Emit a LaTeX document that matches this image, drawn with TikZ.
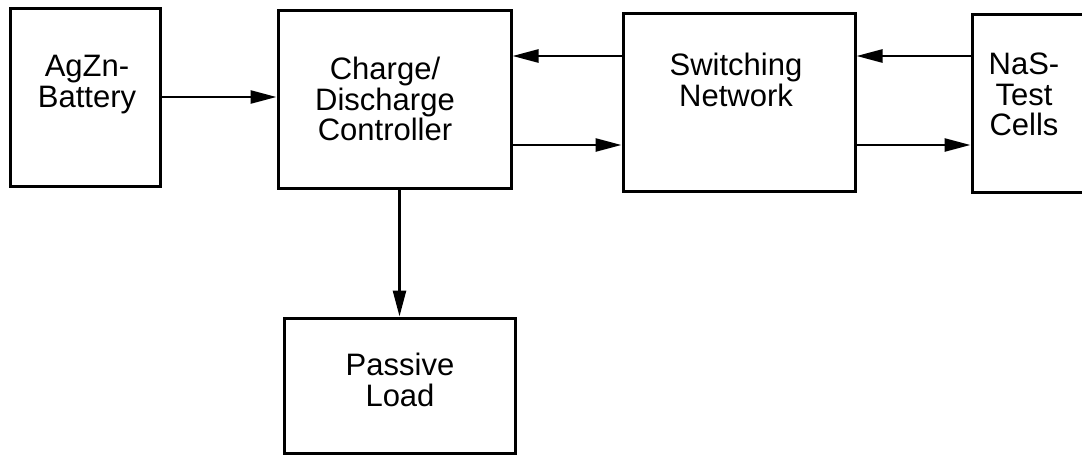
\documentclass[tikz,border=0pt]{standalone}
\usepackage{fontspec}
\setmainfont{Liberation Sans}
\usetikzlibrary{arrows.meta}

\begin{document}
\begin{tikzpicture}[x=1pt,y=-1pt,
    block/.style={draw,line width=3pt,inner sep=0pt},
    caption/.style={align=center,inner sep=0pt,anchor=north,
        font=\fontsize{31}{30.5}\selectfont},
    flow/.style={line width=2.6pt,-{Triangle[length=26pt,width=13pt]}}]

\useasboundingbox (0,0) rectangle (1082,455);

% Blocks
\node[block,minimum width=150pt,minimum height=178pt] (batt) at (85,97) {};
\node[block,minimum width=233pt,minimum height=178pt] (ctrl) at (394.5,99) {};
\node[block,minimum width=232pt,minimum height=178pt] (sw) at (739,102) {};
\node[block,minimum width=128pt,minimum height=178pt] (nas) at (1036,103) {};
\node[block,minimum width=231pt,minimum height=135pt] (load) at (399.5,385.5) {};

% Block texts
\node[caption] (battText) at (87,55) {AgZn-\\Battery};
\node[caption] (ctrlText) at (385,57) {Charge/\\Discharge\\Controller};
\node[caption] (swText) at (736,53) {Switching\\Network};
\node[caption] (nasText) at (1024,53) {NaS-\\Test\\Cells};
\node[caption] (loadText) at (400,353) {Passive\\Load};

% Connections
\draw[flow] (batt.east) -- (batt.east -| ctrl.west);
\draw[flow] ([yshift=46pt]sw.west) -- ([yshift=46pt]sw.west -| ctrl.east);
\draw[flow] ([yshift=-46pt]ctrl.east) -- ([yshift=-46pt]ctrl.east -| sw.west);
\draw[flow] ([yshift=47pt]nas.west) -- ([yshift=47pt]nas.west -| sw.east);
\draw[flow] ([yshift=-43pt]sw.east) -- ([yshift=-43pt]sw.east -| nas.west);
\draw[flow] (load.north |- ctrl.south) -- (load.north);

\end{tikzpicture}
\end{document}
